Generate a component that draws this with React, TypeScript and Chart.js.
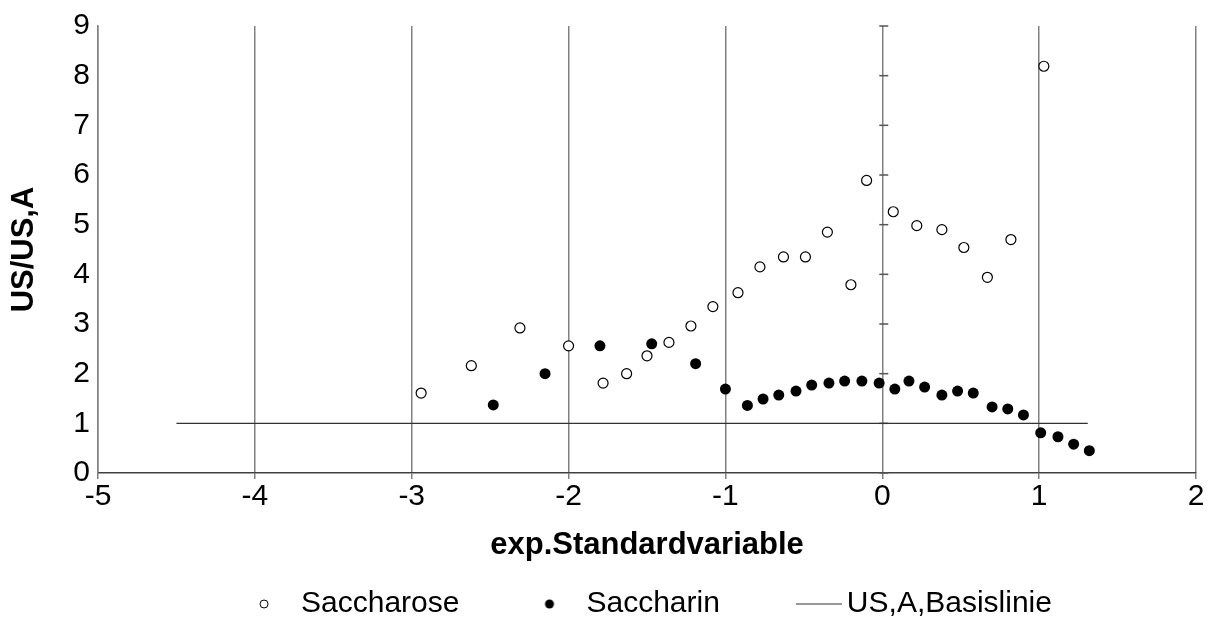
import React, { useEffect, useRef } from "react";
import { Chart, registerables } from "chart.js";

Chart.register(...registerables);

const FONT = "'Liberation Sans', Arial, Helvetica, sans-serif";

// ---- data ----
const saccharoseX = [-2.94, -2.62, -2.31, -2.0, -1.78, -1.63, -1.5, -1.36, -1.22, -1.08, -0.92, -0.78, -0.63, -0.49, -0.35, -0.2, -0.1, 0.07, 0.22, 0.38, 0.52, 0.67, 0.82, 1.03];
const saccharoseY = [1.61, 2.16, 2.92, 2.56, 1.81, 2.0, 2.36, 2.63, 2.96, 3.35, 3.63, 4.15, 4.35, 4.35, 4.85, 3.79, 5.89, 5.26, 4.98, 4.9, 4.54, 3.94, 4.7, 8.19];

const saccharinX = [-2.48, -2.15, -1.8, -1.47, -1.19, -1.0, -0.86, -0.76, -0.66, -0.55, -0.45, -0.34, -0.24, -0.13, -0.02, 0.08, 0.17, 0.27, 0.38, 0.48, 0.58, 0.7, 0.8, 0.9, 1.01, 1.12, 1.22, 1.32];
const saccharinY = [1.37, 2.0, 2.56, 2.6, 2.2, 1.69, 1.36, 1.49, 1.57, 1.65, 1.77, 1.81, 1.85, 1.85, 1.81, 1.69, 1.85, 1.73, 1.57, 1.65, 1.61, 1.33, 1.29, 1.17, 0.81, 0.73, 0.58, 0.45];

const baselineX = [-4.5, 1.31];
const baselineY = [1, 1];

const seriesNames = ["Saccharose", "Saccharin", "US,A,Basislinie"];
const xTicks = [-5, -4, -3, -2, -1, 0, 1, 2];
const yTicks = [0, 1, 2, 3, 4, 5, 6, 7, 8, 9];
const xTitle = "exp.Standardvariable";
const yTitle = "US/US,A";

const toPoints = (xs: number[], ys: number[]) => xs.map((x, i) => ({ x, y: ys[i] }));

function legendMarker(kind: "open" | "filled" | "line"): HTMLCanvasElement {
  const c = document.createElement("canvas");
  if (kind === "line") {
    // drawn centred on the legend box; the stroke sits in the right part so it ends near the text
    c.width = 64;
    c.height = 4;
    const g = c.getContext("2d")!;
    g.strokeStyle = "#333";
    g.lineWidth = 1;
    g.beginPath();
    g.moveTo(18, 2);
    g.lineTo(64, 2);
    g.stroke();
    return c;
  }
  c.width = 14;
  c.height = 14;
  const g = c.getContext("2d")!;
  g.beginPath();
  if (kind === "open") {
    g.arc(7, 7, 4, 0, Math.PI * 2);
    g.fillStyle = "#fff";
    g.fill();
    g.strokeStyle = "#000";
    g.lineWidth = 1;
    g.stroke();
  } else {
    g.arc(7, 7, 4.5, 0, Math.PI * 2);
    g.fillStyle = "#000";
    g.fill();
  }
  return c;
}

const zeroAxisTicks = {
  id: "zeroAxisTicks",
  beforeDatasetsDraw(chart: any) {
    const { ctx, scales } = chart;
    const px = scales.x.getPixelForValue(0);
    ctx.save();
    ctx.strokeStyle = "#555";
    ctx.lineWidth = 1.5;
    yTicks.forEach((v) => {
      const py = scales.y.getPixelForValue(v);
      ctx.beginPath();
      ctx.moveTo(px - 3, py);
      ctx.lineTo(px + 6, py);
      ctx.stroke();
    });
    ctx.restore();
  },
};

export default function App() {
  const ref = useRef<HTMLCanvasElement | null>(null);

  useEffect(() => {
    document.body.style.margin = "0";
    const markers = [legendMarker("open"), legendMarker("filled"), legendMarker("line")];
    const padLeft = 6;
    const chart = new Chart(ref.current!, {
      type: "scatter",
      data: {
        datasets: [
          {
            label: seriesNames[0],
            data: toPoints(saccharoseX, saccharoseY),
            pointStyle: "circle",
            pointRadius: 5,
            pointBackgroundColor: "#fff",
            pointBorderColor: "#000",
            pointBorderWidth: 1.2,
            showLine: false,
          },
          {
            label: seriesNames[1],
            data: toPoints(saccharinX, saccharinY),
            pointStyle: "circle",
            pointRadius: 5.5,
            pointBackgroundColor: "#000",
            pointBorderColor: "#000",
            pointBorderWidth: 0,
            showLine: false,
          },
          {
            label: seriesNames[2],
            type: "line",
            data: toPoints(baselineX, baselineY),
            borderColor: "#333",
            borderWidth: 1.2,
            pointRadius: 0,
            showLine: true,
            fill: false,
          } as any,
        ],
      },
      options: {
        animation: false,
        responsive: false,
        devicePixelRatio: 1,
        layout: { padding: { left: padLeft, right: 22, top: 20, bottom: 5 } },
        plugins: {
          tooltip: { enabled: false },
          legend: {
            position: "bottom",
            fullSize: false,
            labels: {
              usePointStyle: true,
              pointStyleWidth: 44,
              boxHeight: 30,
              padding: 68,
              color: "#000",
              font: { family: FONT, size: 30 },
              generateLabels: (ch: any) => {
                const items = Chart.defaults.plugins.legend.labels.generateLabels(ch);
                items.forEach((it: any) => {
                  it.pointStyle = markers[it.datasetIndex];
                });
                return items;
              },
            },
          },
        },
        scales: {
          x: {
            type: "linear",
            min: -5,
            max: 2,
            afterBuildTicks: (s: any) => {
              s.ticks = xTicks.map((v) => ({ value: v }));
            },
            afterFit: (s: any) => {
              s.height = 48;
            },
            ticks: { color: "#000", font: { family: FONT, size: 30 }, padding: 0, maxRotation: 0 },
            grid: { color: "#808080", lineWidth: 1.5, tickLength: 6, drawOnChartArea: true },
            border: { color: "#404040", width: 1.5 },
            title: {
              display: true,
              text: xTitle,
              color: "#000",
              font: { family: FONT, size: 31, weight: "bold" },
              padding: { top: 0, bottom: -43 },
            },
          },
          y: {
            type: "linear",
            min: 0,
            max: 9,
            afterBuildTicks: (s: any) => {
              s.ticks = yTicks.map((v) => ({ value: v }));
            },
            afterFit: (s: any) => {
              s.width = 98 - padLeft;
            },
            ticks: { color: "#000", font: { family: FONT, size: 30 }, padding: 8 },
            grid: { display: false, drawTicks: false, tickLength: 0 },
            border: { display: true, color: "#808080", width: 1.5 },
            title: {
              display: true,
              text: yTitle,
              color: "#000",
              font: { family: FONT, size: 31, weight: "bold" },
              padding: { top: 0, bottom: 0 },
            },
          },
        },
      },
      plugins: [zeroAxisTicks],
    });
    return () => chart.destroy();
  }, []);

  return (
    <div style={{ width: 1218, height: 634 }}>
      <canvas ref={ref} width={1218} height={634} />
    </div>
  );
}
